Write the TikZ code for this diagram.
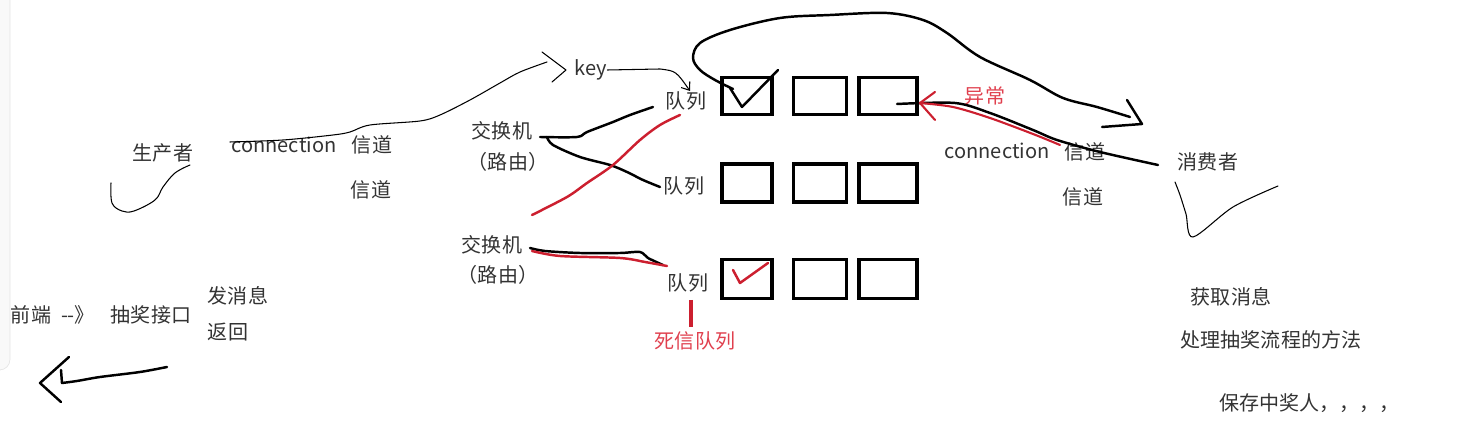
\documentclass[tikz,border=0pt]{standalone}
\usepackage{fontspec}
\setmainfont{Noto Sans CJK SC}
\usetikzlibrary{calc,arrows.meta}

\definecolor{ink}{HTML}{333333}
\definecolor{redline}{HTML}{CC1F2F}
\definecolor{redtext}{HTML}{E0404E}

\begin{document}
\begin{tikzpicture}[x=0.02cm, y=-0.02cm,
        txt/.style={inner sep=0pt, text=ink, font=\fontsize{11.4}{13}\selectfont},
        redtxt/.style={txt, text=redtext},
        qbox/.style={draw, line width=2pt, inner sep=0pt},
        pen/.style={line width=0.6pt, line cap=round, line join=round},
        bold/.style={line width=1.4pt, line cap=round, line join=round},
        redbold/.style={bold, draw=redline}]

        % frame of the page and the panel edge on the left
        \useasboundingbox (0,0) rectangle (1471,448);
        \draw[gray!20, fill=gray!5, rounded corners=6pt] (-10,-10) rectangle (10,370);

        % the three queues, three cells each
        \foreach \r/\y/\h in {1/96/37, 2/183/38, 3/279/39}
            \foreach \c/\x/\w in {1/747/50, 2/820/53, 3/888/58}
                \node[qbox, minimum width=\w*0.02cm, minimum height=\h*0.02cm] (b\r\c) at (\x,\y) {};

        % texts
        \node[txt] (prod) at (163,153) {生产者};
        \node[txt] (conn) at (284,145) {connection};
        \node[txt] (ch1) at (372,145) {信道};
        \node[txt] (ch2) at (371,190) {信道};
        \node[txt] (key) at (591,70) {key};
        \node[txt] (q1) at (686,101) {队列};
        \node[txt] (q2) at (684,186) {队列};
        \node[txt] (q3) at (688,283) {队列};
        \node[txt] (ex1) at (502,131) {交换机};
        \node[txt] (ex1r) at (508,162) {（路由）};
        \node[txt] (ex2) at (492,245) {交换机};
        \node[txt] (ex2r) at (498,275) {（路由）};
        \node[redtxt] (dead) at (695,341) {死信队列};
        \node[redtxt] (err) at (985,96) {异常};
        \node[txt] (connr) at (997,151) {connection};
        \node[txt] (ch3) at (1085,152) {信道};
        \node[txt] (ch4) at (1083,197) {信道};
        \node[txt] (cons) at (1208,162) {消费者};
        \node[txt] (fe) at (31,315) {前端};
        \node[txt] (fearr) at (78,315) {-{}-》};
        \node[txt] (api) at (151,315) {抽奖接口};
        \node[txt] (send) at (238,296) {发消息};
        \node[txt] (ret) at (228,332) {返回};
        \node[txt] (get) at (1231,297) {获取消息};
        \node[txt] (proc) at (1271,340) {处理抽奖流程的方法};
        \node[txt, anchor=west] (save) at (1219,403) {保存中奖人，，，，};

        % producer side
        \draw[pen] plot[smooth, tension=0.6] coordinates {(111,183) (112,203) (122,211) (134,211) (155,200) (163,187) (175,173) (190,165)};
        \coordinate (keyin) at (547,62);
        \draw[pen] plot[smooth, tension=0.5] coordinates {(230,142) (283,140) (333,135) (350,132) (370,125) (420,121) (440,115) (470,100) (500,83) (520,72) (keyin)};
        \draw[pen] (542,52) -- (566,70) -- (552,82);
        \draw[pen, -{Straight Barb[length=4pt, width=6pt]}] (key.east) -- (660,69) .. controls (676,71) .. (690,91);

        % first exchange
        \draw[bold] plot[smooth, tension=0.5] coordinates {(540,137) (577,137) (587,132) (613,122) (630,115) (653,107)};
        \draw[bold] plot[smooth, tension=0.5] coordinates {(547,137) (553,145) (580,157) (610,165) (627,172) (643,180) (660,187)};
        \draw[redbold] plot[smooth, tension=0.5] coordinates {(532,215) (567,197) (587,183) (613,165) (640,140) (660,125) (680,115)};

        % second exchange and dead letter queue
        \draw[bold] plot[smooth, tension=0.5] coordinates {(530,248) (545,251) (580,253) (620,253) (640,252) (648,258) (663,265)};
        \draw[redbold] plot[smooth, tension=0.5] coordinates {(532,251) (560,256) (620,258) (645,262) (667,266)};
        \draw[redbold] (733,270) -- (740,283) -- (768,263);
        \draw[redline, line width=2pt] (691,300) -- (691,327);

        % delivered message goes to the consumer
        \draw[bold] (730,88) -- (742,107) -- (778,70);
        \draw[bold] plot[smooth, tension=0.55] coordinates {(733,89) (715,80) (700,70) (693,58) (700,43) (730,30) (780,18) (830,15) (887,13) (923,20) (947,33) (980,57) (1030,80) (1063,98) (1097,107) (1130,117)};
        \draw[bold] (1127,100) -- (1142,124) -- (1102,127);

        % consumer side
        \draw[bold] plot[smooth, tension=0.5] coordinates {(897,104) (955,103) (990,113) (1033,130) (1057,140) (1100,152) (1158,165)};
        \draw[redbold, line width=1.2pt] plot[smooth, tension=0.5] coordinates {(1060,145) (1033,134) (990,118) (953,107) (920,103)};
        \draw[redbold, line width=1.2pt] (935,92) -- (920,103) -- (935,120);
        \draw[pen] plot[smooth, tension=0.5] coordinates {(1175,182) (1180,195) (1186,214) (1193,237) (1233,207) (1278,186)};

        % back to the front end
        \draw[bold] plot[smooth, tension=0.5] coordinates {(167,367) (140,372) (100,377) (77,381) (62,383)} -- (61,370);
        \draw[bold] (69,357) -- (40,383) -- (61,402);
\end{tikzpicture}
\end{document}
